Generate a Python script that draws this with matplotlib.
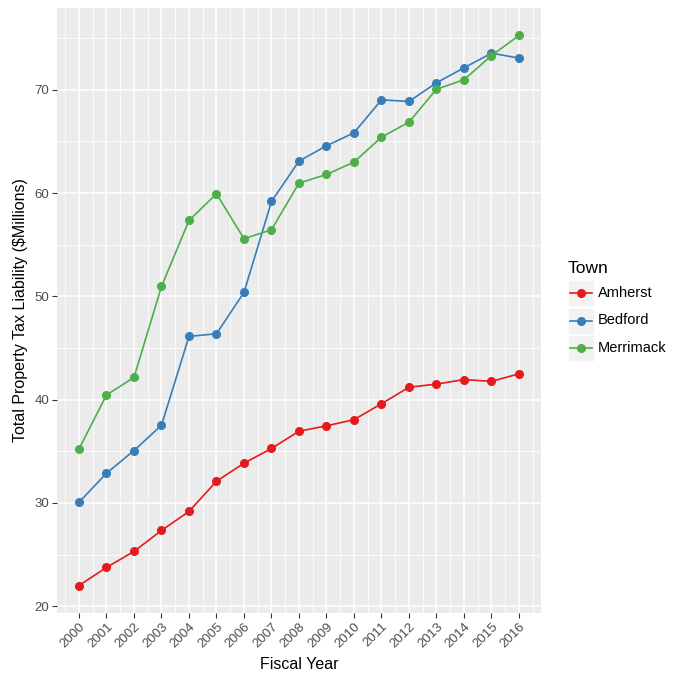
import numpy as np
import matplotlib
matplotlib.use("Agg")
import matplotlib.pyplot as plt
from matplotlib.patches import Rectangle
from matplotlib.lines import Line2D

plt.rcParams['font.family'] = ['Liberation Sans', 'DejaVu Sans']

# data
years = list(range(2000, 2017))
towns = ["Amherst", "Bedford", "Merrimack"]
amherst = [22.0, 23.75, 25.3, 27.33, 29.17, 32.1, 33.84, 35.27, 36.94, 37.46,
           38.06, 39.6, 41.2, 41.5, 41.94, 41.77, 42.5]
bedford = [30.06, 32.87, 35.07, 37.52, 46.12, 46.38, 50.38, 59.19, 63.1, 64.58,
           65.84, 69.03, 68.87, 70.68, 72.13, 73.55, 73.07]
merrimack = [35.22, 40.45, 42.15, 50.96, 57.35, 59.93, 55.58, 56.45, 60.97, 61.8,
             63.0, 65.42, 66.87, 70.06, 70.97, 73.32, 75.26]
series = [amherst, bedford, merrimack]
colors = ["#E41A1C", "#377EB8", "#4DAF4A"]
y_ticks = [20, 30, 40, 50, 60, 70]

W = H = 680
fig = plt.figure(figsize=(6.8, 6.8), dpi=100)
ax = fig.add_axes([57 / W, 1 - 613 / H, (541 - 57) / W, (613 - 8) / H])
ax.set_facecolor("#EBEBEB")
for s in ax.spines.values():
    s.set_visible(False)

# ggplot-like expansion
allv = np.concatenate([np.array(s) for s in series])
lo, hi = allv.min(), allv.max()
pad = (hi - lo) * 0.05
ax.set_ylim(lo - pad, hi + pad)
ax.set_xlim(years[0] - 0.8, years[-1] + 0.8)

ax.set_xticks(years)
ax.set_xticks([y + 0.5 for y in years[:-1]] + [years[0] - 0.5, years[-1] + 0.5], minor=True)
ax.set_yticks(y_ticks)
ax.set_yticks([25, 35, 45, 55, 65, 75], minor=True)
ax.grid(which="major", color="white", linewidth=1.1)
ax.grid(which="minor", color="white", linewidth=0.55)
ax.set_axisbelow(True)
ax.tick_params(which="minor", length=0)
ax.tick_params(which="major", length=3.5, width=0.8, color="#333333",
               labelcolor="#4D4D4D", labelsize=9.5, pad=2)
ax.set_xticklabels([str(y) for y in years], rotation=45, ha="right",
                   rotation_mode="anchor")

for vals, c, name in zip(series, colors, towns):
    ax.plot(years, vals, color=c, linewidth=1.2, marker="o", markersize=5.5,
            label=name)

ax.set_xlabel("Fiscal Year", fontsize=11.5, labelpad=5)
ax.set_ylabel("Total Property Tax Liability ($Millions)", fontsize=11.5, labelpad=5)

# legend drawn in figure pixel coordinates
fig.text(568 / W, 1 - 273 / H, "Town", fontsize=12.5, ha="left", va="baseline")
for i, (name, c) in enumerate(zip(towns, colors)):
    top = 280 + i * 27.5
    fig.patches.append(Rectangle((568 / W, 1 - (top + 26) / H), 26 / W, 26 / H,
                                 transform=fig.transFigure, facecolor="#F2F2F2",
                                 edgecolor="white", linewidth=0.5))
    cy = 1 - (top + 13) / H
    fig.lines.append(Line2D([570 / W, 592 / W], [cy, cy], transform=fig.transFigure,
                            color=c, linewidth=1.2))
    fig.lines.append(Line2D([581 / W], [cy], transform=fig.transFigure, color=c,
                            marker="o", markersize=5.5))
    fig.text(598 / W, cy, name, fontsize=10.5, ha="left", va="center")

fig.savefig("out.png", dpi=100, facecolor="white")
